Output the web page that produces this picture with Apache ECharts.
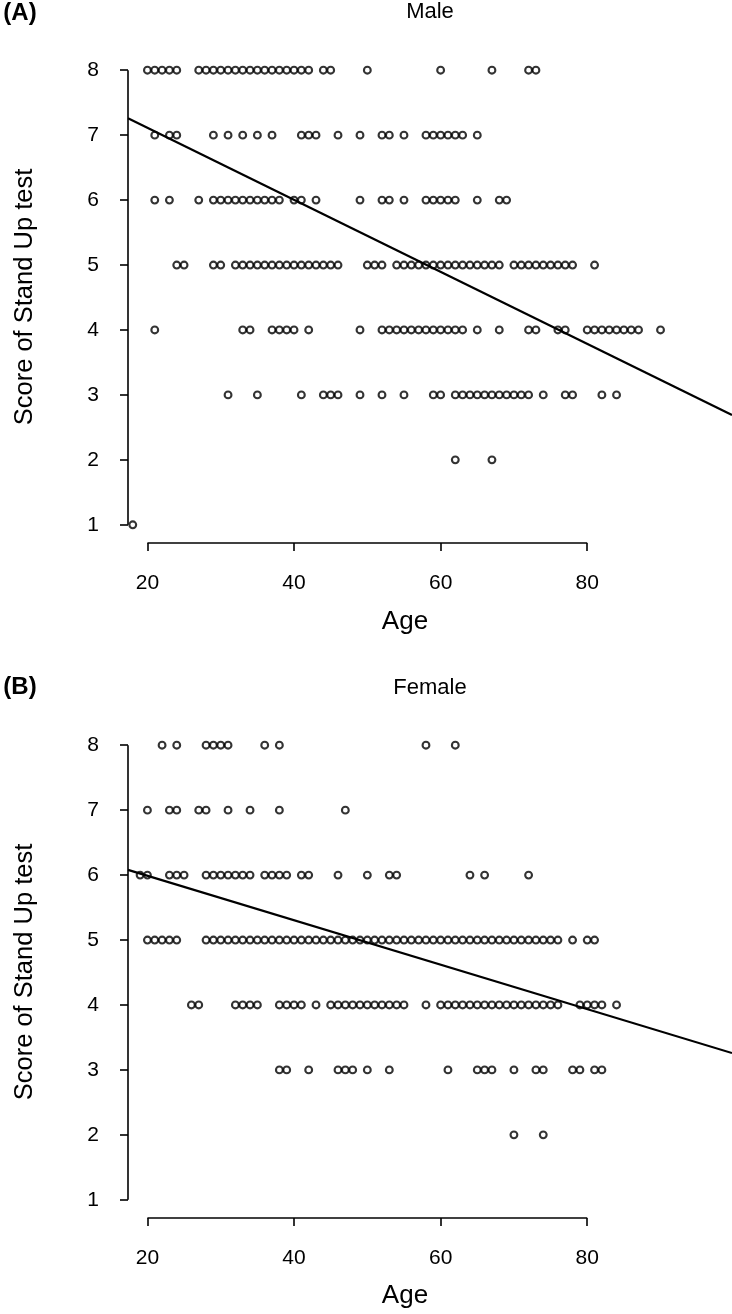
<!DOCTYPE html>
<html><head><meta charset="utf-8">
<script src="https://cdn.jsdelivr.net/npm/echarts@6/dist/echarts.min.js"></script>
<style>html,body{margin:0;padding:0;background:#fff}#c{width:732px;height:1314px}</style>
</head><body><div id="c"></div>
<script>
// ---- data (age values read per score level) ----
const male8 = [20,21,22,23,24,27,28,29,30,31,32,33,34,35,36,37,38,39,40,41,42,44,45,50,60,67,72,73];
const male7 = [21,23,24,29,31,33,35,37,41,42,43,46,49,52,53,55,58,59,60,61,62,63,65];
const male6 = [21,23,27,29,30,31,32,33,34,35,36,37,38,40,41,43,49,52,53,55,58,59,60,61,62,65,68,69];
const male5 = [24,25,29,30,32,33,34,35,36,37,38,39,40,41,42,43,44,45,46,50,51,52,54,55,56,57,58,59,60,61,62,63,64,65,66,67,68,70,71,72,73,74,75,76,77,78,81];
const male4 = [21,33,34,37,38,39,40,42,49,52,53,54,55,56,57,58,59,60,61,62,63,65,68,72,73,76,77,80,81,82,83,84,85,86,87,90];
const male3 = [31,35,41,44,45,46,49,52,55,59,60,62,63,64,65,66,67,68,69,70,71,72,74,77,78,82,84];
const male2 = [62,67];
const male1 = [18];

const female8 = [22,24,28,29,30,31,36,38,58,62];
const female7 = [20,23,24,27,28,31,34,38,47];
const female6 = [19,20,23,24,25,28,29,30,31,32,33,34,36,37,38,39,41,42,46,50,53,54,64,66,72];
const female5 = [20,21,22,23,24,28,29,30,31,32,33,34,35,36,37,38,39,40,41,42,43,44,45,46,47,48,49,50,51,52,53,54,55,56,57,58,59,60,61,62,63,64,65,66,67,68,69,70,71,72,73,74,75,76,78,80,81];
const female4 = [26,27,32,33,34,35,38,39,40,41,43,45,46,47,48,49,50,51,52,53,54,55,58,60,61,62,63,64,65,66,67,68,69,70,71,72,73,74,75,76,79,80,81,82,84];
const female3 = [38,39,42,46,47,48,50,53,61,65,66,67,70,73,74,78,79,81,82];
const female2 = [70,74];
const female1 = [];

// regression line end points (age, score)
const fitAges = [17.35, 99.75];
const maleFit = [7.26, 2.69];
const femaleFit = [6.08, 3.26];

// tick labels
const xTicks = [20, 40, 60, 80];
const yTicks = [1, 2, 3, 4, 5, 6, 7, 8];

// ---- build ----
const maleLevels = [[8,male8],[7,male7],[6,male6],[5,male5],[4,male4],[3,male3],[2,male2],[1,male1]];
const femaleLevels = [[8,female8],[7,female7],[6,female6],[5,female5],[4,female4],[3,female3],[2,female2],[1,female1]];
function pts(levels){ const out=[]; levels.forEach(([s,arr])=>arr.forEach(a=>out.push([a,s]))); return out; }

const XMIN = 17.35, XMAX = 99.75, YMIN = 0.72, YMAX = 8.28;
const FONT = 'Liberation Sans, Arial, sans-serif';

function xAx(i){ return {gridIndex:i, type:'value', min:XMIN, max:XMAX,
  axisLine:{show:false}, splitLine:{show:false},
  axisTick:{show:true, customValues:xTicks, length:8, lineStyle:{color:'#000', width:1.6}},
  axisLabel:{customValues:xTicks, fontSize:21, color:'#000', margin:30, fontFamily:FONT}}; }
function yAx(i){ return {gridIndex:i, type:'value', min:YMIN, max:YMAX,
  axisLine:{show:false}, splitLine:{show:false},
  axisTick:{show:true, customValues:yTicks, length:8, lineStyle:{color:'#000', width:1.6}},
  axisLabel:{customValues:yTicks, fontSize:21, color:'#000', margin:29, fontFamily:FONT}}; }

function scatter(i, levels){ return {type:'scatter', xAxisIndex:i, yAxisIndex:i, data:pts(levels),
  symbol:'circle', symbolSize:6.8, silent:true,
  itemStyle:{color:'rgba(0,0,0,0)', borderColor:'#000', borderWidth:2.1}}; }
function fit(i, ys){ return {type:'line', xAxisIndex:i, yAxisIndex:i, data:[[fitAges[0],ys[0]],[fitAges[1],ys[1]]],
  symbol:'none', silent:true, lineStyle:{color:'#000', width:2.2}}; }
function axisLines(i){ return [
  {type:'line', xAxisIndex:i, yAxisIndex:i, data:[[xTicks[0],YMIN],[xTicks[xTicks.length-1],YMIN]], symbol:'none', clip:false, silent:true, lineStyle:{color:'#000', width:1.6}},
  {type:'line', xAxisIndex:i, yAxisIndex:i, data:[[XMIN,yTicks[0]],[XMIN,yTicks[yTicks.length-1]]], symbol:'none', clip:false, silent:true, lineStyle:{color:'#000', width:1.6}}
]; }

function txt(t, x, y, size, opts){ return Object.assign({type:'text', x:x, y:y, silent:true,
  style:{text:t, fill:'#000', font: (opts&&opts.bold?'bold ':'') + size + 'px ' + FONT, textAlign:'center', textVerticalAlign:'middle'}}, opts&&opts.rot?{rotation:Math.PI/2}:{}); }

const chart = echarts.init(document.getElementById('c'), null, {renderer:'canvas'});
chart.setOption({
  animation:false,
  backgroundColor:'#fff',
  grid:[{left:128, width:604, top:52, height:491, containLabel:false},
        {left:128, width:604, top:727, height:491, containLabel:false}],
  xAxis:[xAx(0), xAx(1)],
  yAxis:[yAx(0), yAx(1)],
  series:[scatter(0, maleLevels), fit(0, maleFit), ...axisLines(0),
          scatter(1, femaleLevels), fit(1, femaleFit), ...axisLines(1)],
  graphic:[
    txt('(A)', 20, 13, 24, {bold:true}),
    txt('Male', 430, 12, 22),
    txt('Age', 405, 622, 26),
    txt('Score of Stand Up test', 25, 297, 25.5, {rot:true}),
    txt('(B)', 20, 687, 24, {bold:true}),
    txt('Female', 430, 688, 22),
    txt('Age', 405, 1296, 26),
    txt('Score of Stand Up test', 25, 972, 25.5, {rot:true})
  ]
});
</script></body></html>
